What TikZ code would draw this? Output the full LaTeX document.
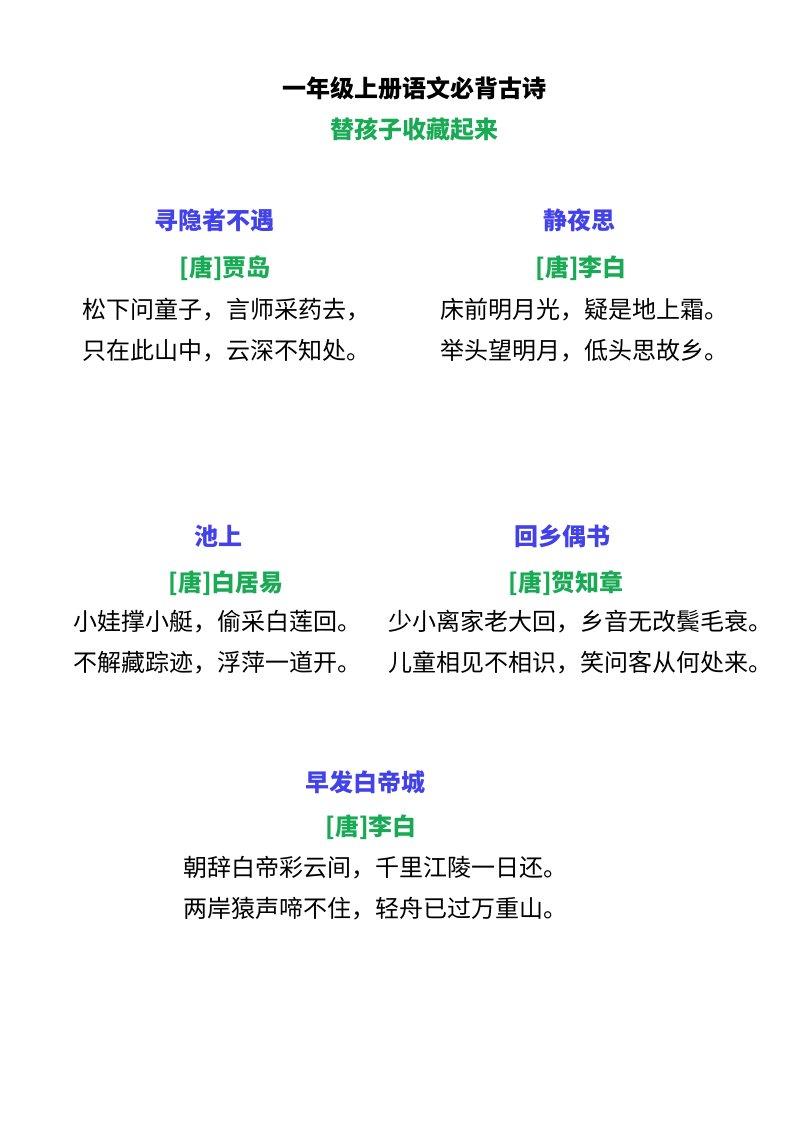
\documentclass[tikz,border=0pt]{standalone}
\usepackage{fontspec}
\setmainfont{Noto Sans CJK SC}
\newfontfamily\cjk{Noto Sans CJK SC}
\definecolor{titleblue}{RGB}{66,66,232}
\definecolor{authgreen}{RGB}{26,170,85}
\tikzset{
  basetext/.style={inner sep=0pt, outer sep=0pt, font=\cjk\fontsize{18pt}{18pt}\selectfont},
  maintitle/.style={basetext, anchor=base, font=\cjk\bfseries\fontsize{18pt}{18pt}\selectfont, text=black},
  subtitle/.style={basetext, anchor=base, font=\cjk\bfseries\fontsize{18pt}{18pt}\selectfont, text=authgreen},
  poemtitle/.style={basetext, anchor=base, font=\cjk\bfseries\fontsize{18pt}{18pt}\selectfont, text=titleblue},
  author/.style={basetext, anchor=base, font=\cjk\bfseries\fontsize{18pt}{18pt}\selectfont, text=authgreen},
  verse/.style={basetext, anchor=base west, text=black}
}
\begin{document}
\begin{tikzpicture}[x=0.75pt, y=-0.75pt]
\fill[white] (0,0) rectangle (794,1123);
\useasboundingbox (0,0) rectangle (794,1123);
% header
\node[maintitle] (t) at (414,98) {一年级上册语文必背古诗};
\node[subtitle] (s) at (414,139) {替孩子收藏起来};
% poem 1
\node[poemtitle] (p1t) at (214,229) {寻隐者不遇};
\node[author] (p1a) at (225,276) {[唐]贾岛};
\node[verse] (p1l1) at (82,318) {松下问童子，言师采药去，};
\node[verse] (p1l2) at (82,359) {只在此山中，云深不知处。};
% poem 2
\node[poemtitle] (p2t) at (579,229) {静夜思};
\node[author] (p2a) at (581,276) {[唐]李白};
\node[verse] (p2l1) at (440,318) {床前明月光，疑是地上霜。};
\node[verse] (p2l2) at (440,359) {举头望明月，低头思故乡。};
% poem 3
\node[poemtitle] (p3t) at (218,545) {池上};
\node[author] (p3a) at (226,591) {[唐]白居易};
\node[verse] (p3l1) at (73,630) {小娃撑小艇，偷采白莲回。};
\node[verse] (p3l2) at (73,671) {不解藏踪迹，浮萍一道开。};
% poem 4
\node[poemtitle] (p4t) at (562,545) {回乡偶书};
\node[author] (p4a) at (566,591) {[唐]贺知章};
\node[verse] (p4l1) at (388,630) {少小离家老大回，乡音无改鬓毛衰。};
\node[verse] (p4l2) at (388,671) {儿童相见不相识，笑问客从何处来。};
% poem 5
\node[poemtitle] (p5t) at (365,791) {早发白帝城};
\node[author] (p5a) at (371,835) {[唐]李白};
\node[verse] (p5l1) at (183,876) {朝辞白帝彩云间，千里江陵一日还。};
\node[verse] (p5l2) at (183,917) {两岸猿声啼不住，轻舟已过万重山。};
\end{tikzpicture}
\end{document}
